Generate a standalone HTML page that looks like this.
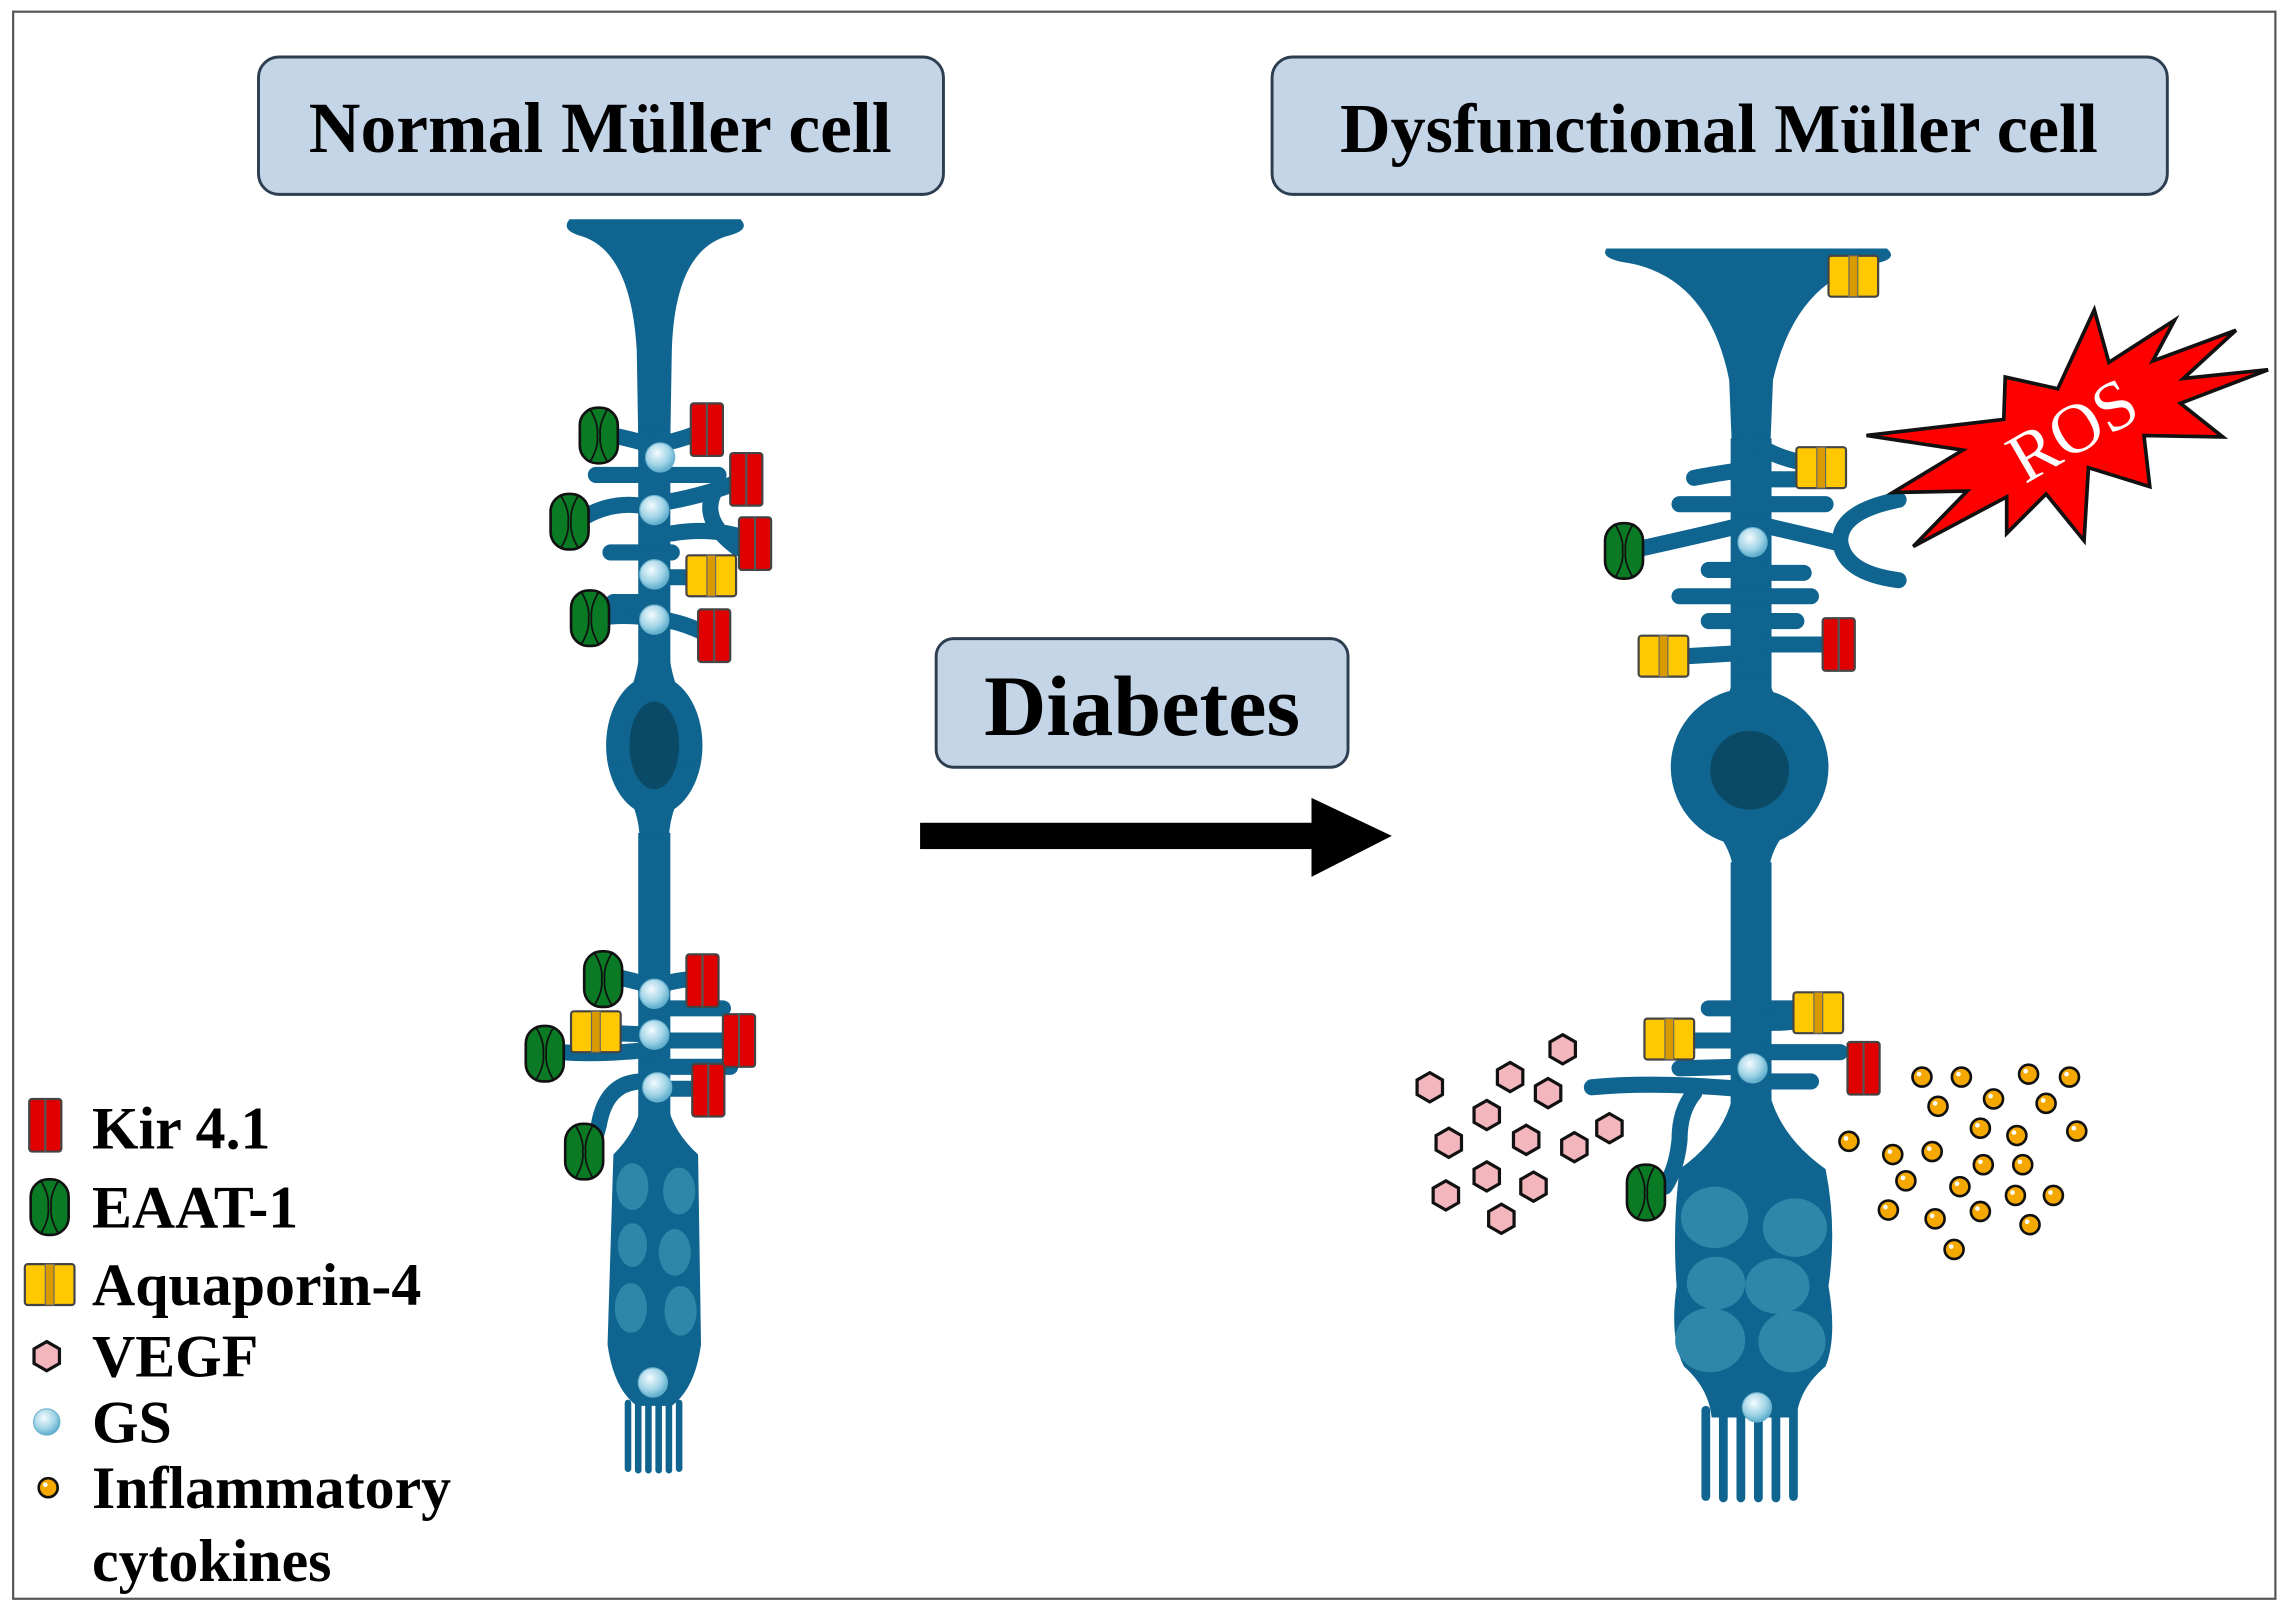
<!DOCTYPE html>
<html><head><meta charset="utf-8"><style>html,body{margin:0;padding:0;background:#fff}svg{display:block}</style></head>
<body>
<svg width="2290" height="1609" viewBox="0 0 1568 1101" preserveAspectRatio="none" xmlns="http://www.w3.org/2000/svg">
<defs>
<radialGradient id="gs" cx="0.4" cy="0.35" r="0.7"><stop offset="0" stop-color="#f4fbfe"/><stop offset="0.6" stop-color="#9fd3e6"/><stop offset="1" stop-color="#4fa6c8"/></radialGradient>
<g id="kir"><rect x="-11" y="-18" width="22" height="36" rx="2" fill="#e00000" stroke="#444" stroke-width="1.5"/><line x1="0" y1="-18" x2="0" y2="18" stroke="#555" stroke-width="1.5"/></g>
<g id="aq"><rect x="-17" y="-14" width="34" height="28" rx="2" fill="#ffc800" stroke="#444" stroke-width="1.5"/><rect x="-3" y="-14" width="6" height="28" fill="#d99a00" stroke="#666" stroke-width="0.8"/></g>
<g id="ea"><rect x="-13" y="-19" width="26" height="38" rx="12" fill="#0a7a25" stroke="#111" stroke-width="1.8"/><path d="M-6,-18 Q0,-8 -1,0 Q0,8 -6,18 M6,-18 Q0,-8 1,0 Q0,8 6,18" fill="none" stroke="#111" stroke-width="1.2"/></g>
<circle id="g" r="10" fill="url(#gs)" stroke="#6ab0cc" stroke-width="0.8"/>
<polygon id="hx" points="0,-10 8.7,-5 8.7,5 0,10 -8.7,5 -8.7,-5" fill="#f4b6bd" stroke="#111" stroke-width="2.2"/>
<g id="ck"><circle r="6.5" fill="#f5a800" stroke="#111" stroke-width="1.8"/><circle cx="-2" cy="-2" r="1.6" fill="#fff"/></g>
</defs>
<rect x="9" y="8" width="1549" height="1086" fill="#fff" stroke="#555" stroke-width="1.5"/>

<!-- Title boxes -->
<rect x="177" y="39" width="469" height="94" rx="14" fill="#c5d5e8" stroke="#2c3e50" stroke-width="2"/>
<text x="411" y="104" text-anchor="middle" font-family="Liberation Serif, serif" font-weight="bold" font-size="49">Normal Müller cell</text>
<rect x="871" y="39" width="613" height="94" rx="14" fill="#c5d5e8" stroke="#2c3e50" stroke-width="2"/>
<text x="1177" y="104" text-anchor="middle" font-family="Liberation Serif, serif" font-weight="bold" font-size="48">Dysfunctional Müller cell</text>
<rect x="641" y="437" width="282" height="88" rx="12" fill="#c5d5e8" stroke="#2c3e50" stroke-width="2"/>
<text x="782" y="503" text-anchor="middle" font-family="Liberation Serif, serif" font-weight="bold" font-size="59">Diabetes</text>
<!-- arrow -->
<rect x="630" y="563" width="272" height="18" fill="#000"/>
<polygon points="898,546 953,572 898,600" fill="#000"/>

<!-- LEFT CELL -->
<g fill="#0f6590" stroke="#0f6590">
<path stroke="none" d="M390,150 L507,150 Q514,157 500,161 Q462,170 460,240 L459,300 L437,300 L436,240 Q432,170 396,161 Q384,157 390,150Z"/>
<rect x="437" y="295" width="22" height="160" stroke="none"/>
<path stroke="none" d="M438,440 Q438,470 418,495 L478,495 Q458,470 458,440Z"/>
<ellipse cx="448" cy="510" rx="33" ry="48" stroke="none"/>
<path stroke="none" d="M418,525 Q438,550 438,575 L458,575 Q458,550 478,525Z"/>
<rect x="437" y="570" width="22" height="195" stroke="none"/>
<path stroke="none" d="M440,745 Q440,770 420,790 L416,920 Q420,950 436,962 L460,962 Q476,950 480,920 L478,790 Q456,770 456,745Z"/>
<g stroke-width="4.5" stroke-linecap="round"><line x1="430" y1="960" x2="430" y2="1005"/><line x1="437" y1="960" x2="437" y2="1006"/><line x1="444" y1="960" x2="444" y2="1006"/><line x1="451" y1="960" x2="451" y2="1006"/><line x1="458" y1="960" x2="458" y2="1006"/><line x1="465" y1="960" x2="465" y2="1005"/></g>
<g fill="none" stroke-width="11" stroke-linecap="round">
<path d="M448,305 Q430,300 420,298"/><path d="M448,305 Q470,300 478,296"/>
<path d="M408,325 L492,325"/>
<path d="M448,348 Q420,340 395,357"/><path d="M448,345 Q480,340 505,330"/>
<path d="M460,365 Q490,360 515,370"/><path d="M490,335 Q478,355 505,375"/>
<path d="M418,378 L460,378"/><path d="M448,395 L475,395"/><path d="M420,412 L448,412"/>
<path d="M448,423 Q425,420 410,423"/><path d="M448,423 Q465,425 480,432"/>
<path d="M448,675 Q430,670 420,668"/><path d="M448,675 Q465,670 475,670"/>
<path d="M448,690 L495,690"/>
<path d="M448,708 L420,707"/><path d="M448,718 Q410,722 385,720"/><path d="M448,712 L500,712"/>
<path d="M460,730 L500,730"/><path d="M448,745 L480,745"/>
<path d="M440,740 Q415,740 410,770 L405,788"/>
</g>
</g>
<ellipse cx="448" cy="510" rx="17" ry="30" fill="#0b4a66"/>
<g fill="#2e87a8">
<ellipse cx="433" cy="812" rx="11" ry="16"/><ellipse cx="465" cy="815" rx="11" ry="16"/>
<ellipse cx="433" cy="852" rx="10" ry="15"/><ellipse cx="462" cy="857" rx="11" ry="16"/>
<ellipse cx="432" cy="895" rx="11" ry="17"/><ellipse cx="466" cy="897" rx="11" ry="17"/>
</g>
<use href="#g" x="452" y="313"/><use href="#g" x="448" y="349"/><use href="#g" x="448" y="393"/><use href="#g" x="448" y="424"/>
<use href="#g" x="448" y="680"/><use href="#g" x="448" y="708"/><use href="#g" x="450" y="744"/><use href="#g" x="447" y="946"/>
<use href="#ea" x="410" y="298"/><use href="#ea" x="390" y="357"/><use href="#ea" x="404" y="423"/>
<use href="#ea" x="413" y="670"/><use href="#ea" x="373" y="721"/><use href="#ea" x="400" y="788"/>
<use href="#kir" x="484" y="294"/><use href="#kir" x="511" y="328"/><use href="#kir" x="517" y="372"/><use href="#kir" x="489" y="435"/>
<use href="#kir" x="481" y="671"/><use href="#kir" x="506" y="712"/><use href="#kir" x="485" y="746"/>
<use href="#aq" x="487" y="394"/><use href="#aq" x="408" y="706"/>

<!-- RIGHT CELL -->
<g fill="#0f6590" stroke="#0f6590">
<path stroke="none" d="M1100,170 L1292,170 Q1300,177 1285,180 Q1230,190 1214,260 L1212,310 L1186,310 L1184,260 Q1170,190 1115,180 Q1095,177 1100,170Z"/>
<rect x="1185" y="300" width="28" height="180" stroke="none"/>
<path stroke="none" d="M1187,460 Q1187,480 1160,500 L1238,500 Q1211,480 1211,460Z"/>
<circle cx="1198" cy="525" r="54" stroke="none"/>
<path stroke="none" d="M1160,555 Q1187,575 1187,600 L1211,600 Q1211,575 1238,555Z"/>
<rect x="1185" y="590" width="28" height="170" stroke="none"/>
<path stroke="none" d="M1188,740 Q1185,775 1150,800 Q1145,840 1148,880 Q1143,915 1153,935 Q1170,950 1172,970 L1230,970 Q1232,950 1250,935 Q1258,915 1252,880 Q1258,840 1250,800 Q1215,775 1210,740Z"/>
<g stroke-width="6" stroke-linecap="round"><line x1="1168" y1="965" x2="1168" y2="1024"/><line x1="1180" y1="965" x2="1180" y2="1025"/><line x1="1192" y1="965" x2="1192" y2="1025"/><line x1="1204" y1="965" x2="1204" y2="1025"/><line x1="1216" y1="965" x2="1216" y2="1025"/><line x1="1228" y1="965" x2="1228" y2="1024"/></g>
<g fill="none" stroke-width="11" stroke-linecap="round">
<path d="M1198,300 Q1215,315 1245,318"/>
<path d="M1190,322 Q1170,325 1160,327"/><path d="M1210,328 L1235,328"/>
<path d="M1150,345 L1250,345"/>
<path d="M1190,360 Q1170,365 1125,375"/>
<path d="M1210,360 Q1245,368 1260,372"/>
<path d="M1300,342 Q1260,350 1260,370 Q1262,392 1300,397"/>
<path d="M1190,390 L1170,390"/><path d="M1210,392 L1235,392"/>
<path d="M1150,408 L1240,408"/>
<path d="M1190,425 L1170,425"/><path d="M1210,425 L1230,425"/>
<path d="M1190,447 L1155,449"/><path d="M1210,441 L1250,441"/>
<path d="M1190,690 L1170,690"/><path d="M1210,690 L1235,690"/>
<path d="M1190,712 L1160,712"/><path d="M1210,720 L1260,720"/>
<path d="M1190,730 L1150,731"/><path d="M1210,740 L1240,740"/>
<path d="M1190,745 Q1130,740 1090,744"/>
<path d="M1160,748 Q1150,760 1150,780 Q1148,800 1140,812"/>
<path d="M1210,700 Q1225,700 1235,698"/>
</g>
</g>
<circle cx="1198" cy="527" r="27" fill="#0b4a66"/>
<g fill="#2e87a8">
<ellipse cx="1174" cy="833" rx="23" ry="21"/><ellipse cx="1229" cy="840" rx="22" ry="20"/>
<ellipse cx="1175" cy="878" rx="20" ry="18"/><ellipse cx="1217" cy="880" rx="22" ry="19"/>
<ellipse cx="1171" cy="917" rx="24" ry="22"/><ellipse cx="1227" cy="918" rx="23" ry="21"/>
</g>
<use href="#g" x="1200" y="371"/><use href="#g" x="1200" y="731"/><use href="#g" x="1203" y="963"/>
<use href="#aq" x="1269" y="189"/><use href="#aq" x="1247" y="320"/><use href="#aq" x="1139" y="449"/><use href="#aq" x="1143" y="711"/><use href="#aq" x="1245" y="693"/>
<use href="#ea" x="1112" y="377"/><use href="#ea" x="1127" y="816"/>
<use href="#kir" x="1259" y="441"/><use href="#kir" x="1276" y="731"/>

<!-- ROS -->
<polygon points="1278,298 1344,308 1296,337 1347,336 1310,374 1374,340 1374,365 1401,338 1427,370 1430,320 1472,333 1468,298 1522,299 1493,276 1553,253 1495,259 1531,226 1474,247 1489,219 1444,248 1434,212 1409,266 1373,258 1372,287" fill="#ff0000" stroke="#111" stroke-width="2.5" stroke-linejoin="miter"/>
<text x="1420" y="310" text-anchor="middle" transform="rotate(-30 1420 296)" font-family="Liberation Serif, serif" font-size="48" fill="#fff">ROS</text>

<!-- VEGF -->
<g>
<use href="#hx" x="979" y="744"/><use href="#hx" x="1034" y="737"/><use href="#hx" x="1070" y="718"/>
<use href="#hx" x="992" y="782"/><use href="#hx" x="1018" y="763"/><use href="#hx" x="1045" y="780"/><use href="#hx" x="1060" y="748"/>
<use href="#hx" x="1078" y="785"/><use href="#hx" x="1102" y="772"/><use href="#hx" x="990" y="818"/><use href="#hx" x="1018" y="805"/>
<use href="#hx" x="1050" y="812"/><use href="#hx" x="1028" y="834"/>
</g>
<!-- cytokines -->
<g>
<use href="#ck" x="1316" y="737"/><use href="#ck" x="1343" y="737"/><use href="#ck" x="1389" y="735"/><use href="#ck" x="1417" y="737"/>
<use href="#ck" x="1365" y="752"/><use href="#ck" x="1401" y="755"/><use href="#ck" x="1327" y="757"/>
<use href="#ck" x="1266" y="781"/><use href="#ck" x="1296" y="790"/><use href="#ck" x="1323" y="788"/><use href="#ck" x="1356" y="772"/>
<use href="#ck" x="1381" y="777"/><use href="#ck" x="1422" y="774"/><use href="#ck" x="1305" y="808"/><use href="#ck" x="1342" y="812"/>
<use href="#ck" x="1358" y="797"/><use href="#ck" x="1385" y="797"/><use href="#ck" x="1293" y="828"/><use href="#ck" x="1325" y="834"/>
<use href="#ck" x="1356" y="829"/><use href="#ck" x="1380" y="818"/><use href="#ck" x="1406" y="818"/><use href="#ck" x="1338" y="855"/><use href="#ck" x="1390" y="838"/>
</g>

<!-- Legend -->
<use href="#kir" x="31" y="770"/>
<use href="#ea" x="34" y="826"/>
<use href="#aq" x="34" y="879"/>
<use href="#hx" x="32" y="928"/>
<circle cx="32" cy="973" r="9" fill="url(#gs)" stroke="#6ab0cc" stroke-width="0.8"/>
<use href="#ck" x="33" y="1018"/>
<g font-family="Liberation Serif, serif" font-weight="bold" font-size="41" fill="#000">
<text x="63" y="786">Kir 4.1</text>
<text x="63" y="840">EAAT-1</text>
<text x="63" y="893">Aquaporin-4</text>
<text x="63" y="942">VEGF</text>
<text x="63" y="987">GS</text>
<text x="63" y="1032">Inflammatory</text>
<text x="63" y="1082">cytokines</text>
</g>
</svg>
</body></html>
